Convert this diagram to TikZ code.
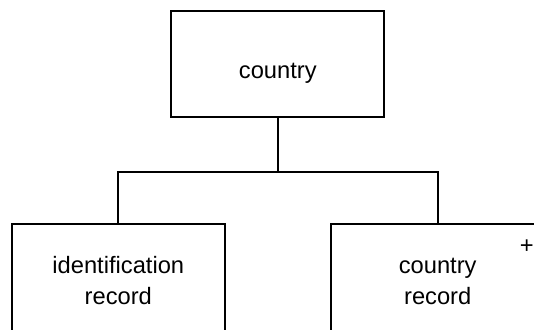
\documentclass[tikz,border=0pt]{standalone}
\usepackage{fontspec}
\setmainfont{Liberation Sans}
\usetikzlibrary{positioning}

\begin{document}
\begin{tikzpicture}[x=0.5pt, y=-0.5pt,
		box/.style={draw, line width=1pt, rectangle, inner sep=0pt, minimum width=106.5pt, minimum height=53pt},
		lbl/.style={anchor=base, align=center, inner sep=0pt, font=\fontsize{11.85pt}{15.5pt}\selectfont}]
			%%%%% START %%%%%
			
			\clip (0, 0) rectangle (534, 329);
			
			\node[box] (country) at (277.6, 64.3) {};
			\node[box, minimum height=60pt] (idrecord) at (118, 284) {};
			\node[box, minimum height=60pt] (ctyrecord) at (437.7, 284) {};
			
			\node[lbl] (countrytext) at (277.8, 78.3) {country};
			\node[lbl] (idtext) at (118.3, 304.3) {identification\\record};
			\node[lbl] (ctytext) at (437.7, 304.3) {country\\record};
			\node[lbl] (plus) at (526.7, 253.3) {+};
			
			\coordinate (split) at (277.6, 171.7);
			\draw[line width=1pt] (country.south) -- (split);
			\draw[line width=1pt] (idrecord.north) |- (split) -| (ctyrecord.north);
			
			%%%%% END %%%%%
		\end{tikzpicture}
\end{document}
